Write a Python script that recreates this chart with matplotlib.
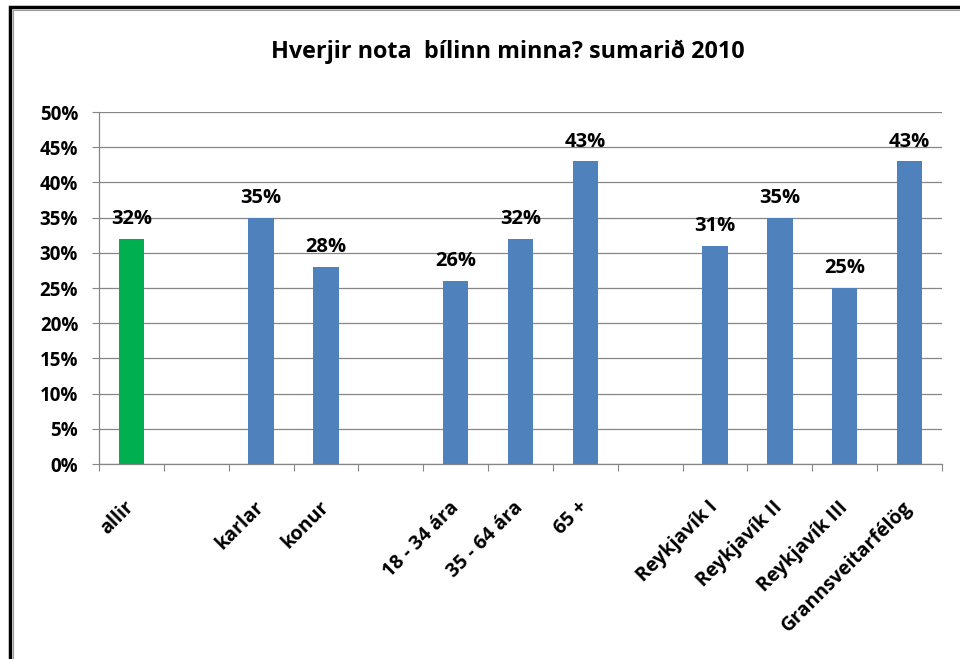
import matplotlib
matplotlib.use("Agg")
import matplotlib.pyplot as plt
from matplotlib.patches import Rectangle

categories = ["allir", "", "karlar", "konur", "", "18 - 34 ára", "35 - 64 ára", "65 +", "",
              "Reykjavík I", "Reykjavík II", "Reykjavík III", "Grannsveitarfélög"]
values = [32, None, 35, 28, None, 26, 32, 43, None, 31, 35, 25, 43]
colors = ["#00B050", None, "#4F81BD", "#4F81BD", None, "#4F81BD", "#4F81BD", "#4F81BD", None,
          "#4F81BD", "#4F81BD", "#4F81BD", "#4F81BD"]
yticks = [0, 5, 10, 15, 20, 25, 30, 35, 40, 45, 50]
title = "Hverjir nota  bílinn minna? sumarið 2010"

plt.rcParams['font.family'] = ['Open Sans', 'DejaVu Sans']

fig = plt.figure(figsize=(9.6, 6.59), dpi=100)
ax = fig.add_axes([99/960, 1-464/659, (942-99)/960, (464-112)/659])

n = len(categories)
for i, (v, c) in enumerate(zip(values, colors)):
    if v is None:
        continue
    ax.bar(i, v, width=0.39, color=c, zorder=3)
    ax.annotate(f"{v}%", (i, v), xytext=(0, 7), textcoords="offset points",
                ha="center", va="bottom", fontsize=14.5, fontweight="bold", color="#000000")

ax.set_xlim(-0.5, n - 0.5)
ax.set_ylim(0, 50)
ax.set_yticks(yticks)
ax.set_yticklabels([f"{t}%" for t in yticks], fontsize=13.5, fontweight="bold")
ax.yaxis.grid(True, color="#868686", linewidth=0.9, zorder=0)
ax.set_axisbelow(True)
for s in ["top", "right"]:
    ax.spines[s].set_visible(False)
for s in ["left", "bottom"]:
    ax.spines[s].set_color("#868686")
    ax.spines[s].set_linewidth(0.9)
ax.tick_params(axis="y", length=5, color="#868686", pad=10)

# x ticks at category boundaries
ax.set_xticks([i - 0.5 for i in range(n + 1)])
ax.set_xticklabels([])
ax.tick_params(axis="x", length=5, color="#868686")
for i, lab in enumerate(categories):
    if lab:
        ax.annotate(lab, (i, 0), xytext=(5, -24), textcoords="offset points",
                    rotation=45, ha="right", va="top", fontsize=14, fontweight="bold")

fig.text(508/960, 1-52/659, title, ha="center", va="center", fontsize=16.8, fontweight="bold")

# outer frame
fig.patches.append(Rectangle((10/960, -0.1), 1.2, 1 - 7/659 + 0.1, transform=fig.transFigure,
                             fill=False, edgecolor="black", linewidth=2.5))
fig.patches.append(Rectangle((13/960, -0.1), 1.2, 1 - 10/659 + 0.1, transform=fig.transFigure,
                             fill=False, edgecolor="#9a9a9a", linewidth=0.8))

fig.savefig("out.png", dpi=100)
